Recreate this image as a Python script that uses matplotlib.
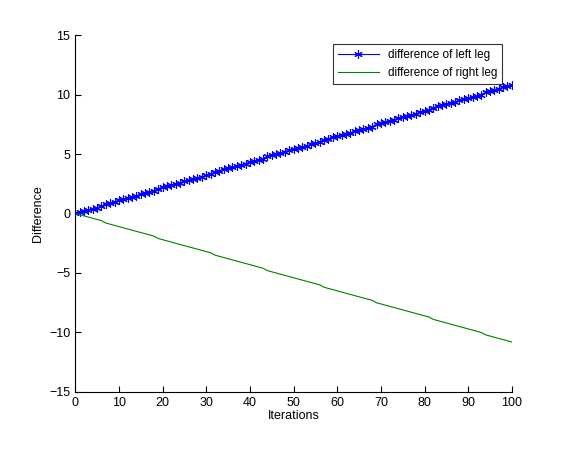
import matplotlib
matplotlib.use("Agg")
import matplotlib.pyplot as plt

plt.rcParams['font.family'] = ['Liberation Sans', 'DejaVu Sans']

iterations = list(range(101))
left_leg = [0, 0.1, 0.2, 0.3, 0.4, 0.5, 0.6, 0.8, 0.9, 1.0, 1.1, 1.2, 1.3, 1.4, 1.5, 1.6, 1.7, 1.8, 1.9, 2.1,
            2.2, 2.3, 2.4, 2.5, 2.6, 2.7, 2.8, 2.9, 3.0, 3.1, 3.2, 3.3, 3.5, 3.6, 3.7, 3.8, 3.9, 4.0, 4.1, 4.2,
            4.3, 4.4, 4.5, 4.6, 4.8, 4.9, 5.0, 5.1, 5.2, 5.3, 5.4, 5.5, 5.6, 5.7, 5.8, 5.9, 6.0, 6.2, 6.3, 6.4,
            6.5, 6.6, 6.7, 6.8, 6.9, 7.0, 7.1, 7.2, 7.3, 7.5, 7.6, 7.7, 7.8, 7.9, 8.0, 8.1, 8.2, 8.3, 8.4, 8.5,
            8.6, 8.7, 8.9, 9.0, 9.1, 9.2, 9.3, 9.4, 9.5, 9.6, 9.7, 9.8, 9.9, 10.0, 10.2, 10.3, 10.4, 10.5, 10.6,
            10.7, 10.8]
right_leg = [0, -0.1, -0.2, -0.3, -0.4, -0.5, -0.6, -0.8, -0.9, -1.0, -1.1, -1.2, -1.3, -1.4, -1.5, -1.6, -1.7,
             -1.8, -1.9, -2.1, -2.2, -2.3, -2.4, -2.5, -2.6, -2.7, -2.8, -2.9, -3.0, -3.1, -3.2, -3.3, -3.5, -3.6,
             -3.7, -3.8, -3.9, -4.0, -4.1, -4.2, -4.3, -4.4, -4.5, -4.6, -4.8, -4.9, -5.0, -5.1, -5.2, -5.3, -5.4,
             -5.5, -5.6, -5.7, -5.8, -5.9, -6.0, -6.2, -6.3, -6.4, -6.5, -6.6, -6.7, -6.8, -6.9, -7.0, -7.1, -7.2,
             -7.3, -7.5, -7.6, -7.7, -7.8, -7.9, -8.0, -8.1, -8.2, -8.3, -8.4, -8.5, -8.6, -8.7, -8.9, -9.0, -9.1,
             -9.2, -9.3, -9.4, -9.5, -9.6, -9.7, -9.8, -9.9, -10.0, -10.2, -10.3, -10.4, -10.5, -10.6, -10.7, -10.8]
xticks = list(range(0, 101, 10))
yticks = [-15, -10, -5, 0, 5, 10, 15]

fig = plt.figure(figsize=(5.70, 4.49), dpi=100)
ax = fig.add_axes([0.132, 0.127, 0.766, 0.795])
ax.plot(iterations, left_leg, color="#0000ff", marker=(6, 2, 0), markersize=6, markeredgewidth=0.8,
        linewidth=0.8, label="difference of left leg")
ax.plot(iterations, right_leg, color="#008000", linewidth=0.8, label="difference of right leg")
ax.set_xlim(0, 100)
ax.set_ylim(-15, 15)
ax.set_xticks(xticks)
ax.set_yticks(yticks)
ax.tick_params(direction="in", labelsize=9, length=4, top=False, right=False)
ax.set_xlabel("Iterations", fontsize=9, labelpad=1)
ax.set_ylabel("Difference", fontsize=9)
for s in ["top", "right"]:
    ax.spines[s].set_visible(False)
leg = ax.legend(loc="upper right", fontsize=8.5, fancybox=False, edgecolor="black",
                handlelength=3.5, borderaxespad=0.8)
leg.get_frame().set_linewidth(0.8)
fig.savefig("out.png", dpi=100)
